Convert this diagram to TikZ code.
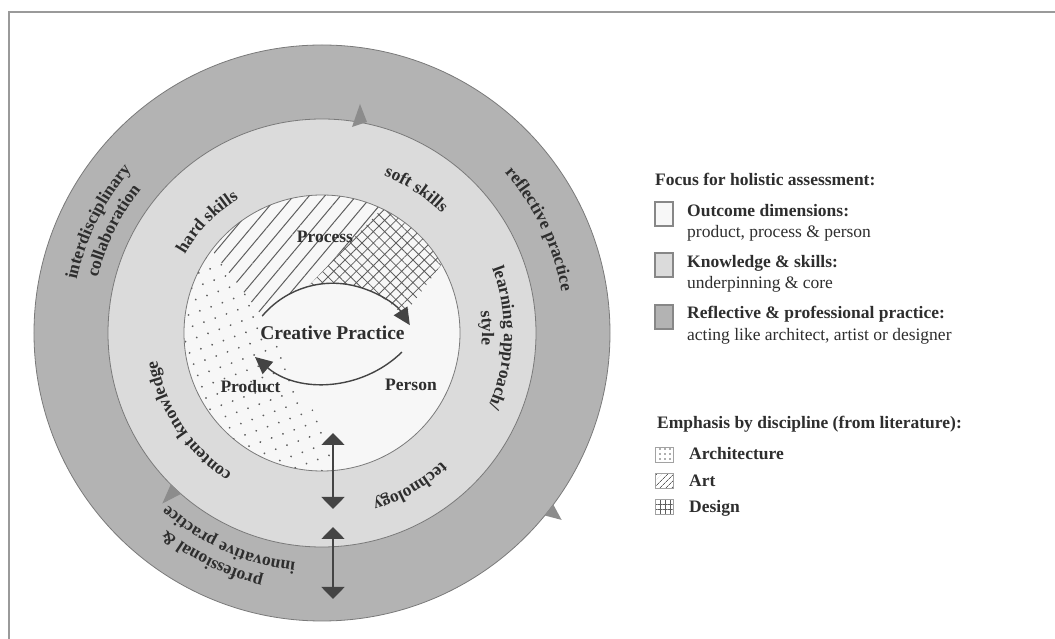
\documentclass[tikz,border=0pt]{standalone}
\usepackage{fontspec}
\setmainfont{Liberation Serif}
\usetikzlibrary{arrows.meta,patterns.meta,decorations.text}
\definecolor{ink}{HTML}{2E2E2E}
\definecolor{outerband}{HTML}{B3B3B3}
\definecolor{midband}{HTML}{DBDBDB}
\definecolor{innercore}{HTML}{F7F7F7}
\definecolor{rim}{HTML}{7A7A7A}
\definecolor{hatchgray}{HTML}{5E5E5E}
\definecolor{framegray}{HTML}{9A9A9A}
\definecolor{markgray}{HTML}{8C8C8C}
\definecolor{arrowgray}{HTML}{444444}
\newcommand{\lblfont}{\fontsize{17.5}{20}\selectfont\bfseries\color{ink}}
% curved label: centre angle, baseline radius, half span, text
\newcommand{\arclabel}[4]{%
  \path[decorate, decoration={text along path, text align=center,
      text={|\lblfont|#4}}]
    (#1+#3:#2pt) arc[start angle=#1+#3, end angle=#1-#3, radius=#2pt];}
\tikzset{
    ring/.style={draw=rim, line width=0.8pt},
    cyc/.style={draw=arrowgray, line width=1.4pt, -{Triangle[length=17pt, width=16pt]}},
    dbl/.style={draw=arrowgray, line width=1.8pt,
      {Triangle[length=12pt, width=23pt]}-{Triangle[length=12pt, width=23pt]}},
    marker/.style={fill=markgray},
    keybox/.style={draw=rim!90, line width=1.4pt},
    iconbox/.style={draw=rim!70, line width=1pt, pattern color=hatchgray},
    lgd/.style={anchor=base west, inner sep=0pt, text=ink, font=\fontsize{17.5}{20}\selectfont},
    dim/.style={inner sep=0pt, text=ink, font=\fontsize{17.5}{20}\selectfont\bfseries}
}

\begin{document}
\begin{tikzpicture}[x=1pt, y=1pt]
  \useasboundingbox (-322,-306) rectangle (733,333);
  \draw[framegray, line width=1.6pt] (-313,321) rectangle (760,-330);

  % rings
  \draw[ring, fill=outerband] (0,0) circle[radius=288pt];
  \draw[ring, fill=midband] (0,0) circle[radius=214pt];
  \draw[ring, fill=innercore] (0,0) circle[radius=138pt];

  % emphasis by discipline
  \begin{scope}
    \clip (0,0) circle[radius=138pt];
    \fill[pattern={Dots[distance=12pt, radius=1pt, angle=20]}, pattern color=hatchgray]
      (-59.8,16.9) -- (-195,194) -- (-300,0) -- (-150,-250) -- (48,-183) -- cycle;
    \fill[pattern={Lines[angle=50, distance=12pt, line width=1pt]}, pattern color=hatchgray]
      (-59.8,16.9) arc[start angle=140, end angle=105.6, radius=92pt]
      -- (124,192) -- (-195,194) -- cycle;
    \fill[pattern={Hatch[angle=45, distance=8pt, line width=0.8pt]}, pattern color=hatchgray]
      (-14,46.4) arc[start angle=105.6, end angle=40, radius=92pt]
      -- (186,158) -- (124,192) -- cycle;
  \end{scope}

  % ring labels
  \arclabel{153.6}{251}{40}{interdisciplinary}
  \arclabel{153.9}{231}{40}{collaboration}
  \arclabel{25.5}{243}{40}{reflective practice}
  \arclabel{244}{251}{40}{professional {\&}}
  \arclabel{245.8}{231}{40}{innovative practice}
  \arclabel{56.7}{169}{40}{soft skills}
  \arclabel{136}{158}{40}{hard skills}
  \arclabel{-1.6}{182}{45}{learning approach/}
  \arclabel{1.7}{160}{40}{style}
  \arclabel{-60.2}{176}{40}{technology}
  \arclabel{213.4}{167}{40}{content knowledge}

  % ring markers
  \fill[marker] (30,206) -- (38,229) -- (45,211) -- cycle;
  \fill[marker] (-140.9,-160.8) -- (-159.7,-170.6) -- (-151.1,-151.2) -- cycle;
  \fill[marker] (231.3,-171.5) -- (239.6,-186.9) -- (222.7,-182.5) -- cycle;

  % core
  \node[dim, font=\fontsize{19.5}{22}\selectfont\bfseries] (cp) at (10.5,0) {Creative Practice};
  \node[dim] (proc) at (3,96) {Process};
  \node[dim] (prod) at (-71.5,-54) {Product};
  \node[dim] (pers) at (89,-52) {Person};
  \coordinate (upstart) at (-59.8,16.9);
  \coordinate (lowstart) at (79.9,-19.1);
  \draw[cyc] (upstart) arc[start angle=140, end angle=33, radius=92pt];
  \draw[cyc] (lowstart) arc[start angle=-45.7, end angle=-130.5, radius=109pt];

  % links between the rings
  \coordinate (v1) at (11,-100);
  \coordinate (v2) at (11,-176);
  \coordinate (v3) at (11,-194);
  \coordinate (v4) at (11,-266);
  \draw[dbl] (v1) -- (v2);
  \draw[dbl] (v3) -- (v4);

  % legend
  \node[lgd, font=\fontsize{17.5}{20}\selectfont\bfseries] (focus) at (333,147) {Focus for holistic assessment:};
  \draw[keybox, fill=innercore] (333,131) rectangle (351,107);
  \node[lgd, font=\fontsize{17.5}{20}\selectfont\bfseries] (outc) at (365,116) {Outcome dimensions:};
  \node[lgd] (outcsub) at (365,95) {product, process \& person};
  \draw[keybox, fill=midband] (333,80) rectangle (351,56);
  \node[lgd, font=\fontsize{17.5}{20}\selectfont\bfseries] (know) at (365,65) {Knowledge \& skills:};
  \node[lgd] (knowsub) at (365,44) {underpinning \& core};
  \draw[keybox, fill=outerband] (333,28) rectangle (351,4);
  \node[lgd, font=\fontsize{17.5}{20}\selectfont\bfseries] (refl) at (365,14) {Reflective \& professional practice:};
  \node[lgd] (reflsub) at (365,-8) {acting like architect, artist or designer};

  \node[lgd, font=\fontsize{17.5}{20}\selectfont\bfseries] (emph) at (335,-96) {Emphasis by discipline (from literature):};
  \draw[iconbox, pattern={Dots[distance=5pt, radius=0.9pt]}] (333,-115) rectangle (351,-130);
  \node[lgd, font=\fontsize{17.5}{20}\selectfont\bfseries] (arch) at (367,-127) {Architecture};
  \draw[iconbox, pattern={Lines[angle=45, distance=4pt, line width=0.7pt]}] (333,-141) rectangle (351,-156);
  \node[lgd, font=\fontsize{17.5}{20}\selectfont\bfseries] (art) at (367,-154) {Art};
  \draw[iconbox, pattern={Hatch[angle=0, distance=5pt, line width=0.7pt]}] (333,-167) rectangle (351,-182);
  \node[lgd, font=\fontsize{17.5}{20}\selectfont\bfseries] (design) at (367,-180) {Design};
\end{tikzpicture}
\end{document}
